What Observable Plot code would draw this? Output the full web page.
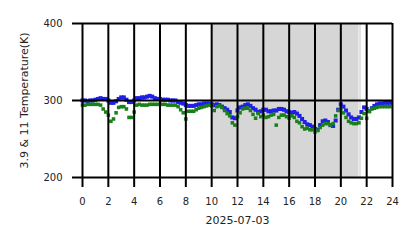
<!DOCTYPE html>
<html>
<head>
<meta charset="utf-8">
<script src="https://cdn.jsdelivr.net/npm/d3@7"></script>
<script src="https://cdn.jsdelivr.net/npm/@observablehq/plot@0.6"></script>
<style>
  html, body { margin: 0; padding: 0; background: white; }
</style>
</head>
<body>
<div id="chart"></div>
<script>
// Hours of day (step 0.2 h)
const hours = [
  0.0,0.2,0.4,0.6,0.8,1.0,1.2,1.4,1.6,1.8,2.0,2.2,2.4,2.6,2.8,3.0,3.2,3.4,3.6,3.8,
  4.0,4.2,4.4,4.6,4.8,5.0,5.2,5.4,5.6,5.8,6.0,6.2,6.4,6.6,6.8,7.0,7.2,7.4,7.6,7.8,
  8.0,8.2,8.4,8.6,8.8,9.0,9.2,9.4,9.6,9.8,10.0,10.2,10.4,10.6,10.8,11.0,11.2,11.4,11.6,11.8,
  12.0,12.2,12.4,12.6,12.8,13.0,13.2,13.4,13.6,13.8,14.0,14.2,14.4,14.6,14.8,15.0,15.2,15.4,15.6,15.8,
  16.0,16.2,16.4,16.6,16.8,17.0,17.2,17.4,17.6,17.8,18.0,18.2,18.4,18.6,18.8,19.0,19.2,19.4,19.6,19.8,
  20.0,20.2,20.4,20.6,20.8,21.0,21.2,21.4,21.6,21.8,22.0,22.2,22.4,22.6,22.8,23.0,23.2,23.4,23.6,23.8
];
// 3.9 um brightness temperature (K) - blue
const temp39 = [
  300,300,299,300,300,301,302,303,302,302,300,297,297,299,302,304,304,301,298,298,
  300,303,303,304,304,305,306,305,303,302,302,301,301,301,300,300,300,298,297,296,
  294,293,293,293,294,295,295,296,296,296,295,294,295,294,292,290,288,285,278,277,
  287,291,292,294,295,293,290,288,285,286,288,288,286,286,287,287,289,289,288,286,
  285,284,285,283,280,276,272,269,268,266,263,262,268,273,274,272,268,267,274,288,
  295,292,287,282,278,276,276,278,285,291,289,286,290,293,295,296,296,297,297,297
];
// 11 um brightness temperature (K) - green
const temp11 = [
  294,294,295,295,295,295,295,294,289,285,281,273,276,284,291,292,292,289,278,278,
  285,294,295,294,294,294,295,295,295,295,295,295,295,294,294,294,294,292,288,284,
  276,286,286,286,288,290,291,292,293,294,293,287,292,293,291,287,283,280,271,268,
  279,284,289,290,290,287,282,277,283,279,281,278,279,281,282,268,278,281,281,279,
  277,280,278,273,271,266,263,264,262,262,259,261,265,268,270,270,268,270,280,287,
  289,284,278,273,271,270,270,271,277,283,277,286,289,290,291,292,292,292,292,292
];
const xTicks = [0,2,4,6,8,10,12,14,16,18,20,22,24];
const yTicks = [200,300,400];
const shade = [{start: 10, end: 21.4, fill: "#d6d6d6"}, {start: 21.4, end: 21.6, fill: "#e3e3e3"}];
const dateLabel = "2025-07-03";
const yLabel = "3.9 & 11 Temperature(K)";

const data = hours.map((h, i) => ({h, t39: temp39[i], t11: temp11[i]}));

const chart = Plot.plot({
  width: 418,
  height: 248,
  marginLeft: 82,
  marginRight: 26,
  marginTop: 23,
  marginBottom: 71,
  style: {fontFamily: "DejaVu Sans", background: "white", color: "#222"},
  x: {domain: [0, 24]},
  y: {domain: [200, 400]},
  marks: [
    Plot.rectX(shade, {x1: "start", x2: "end", y1: 200, y2: 400, fill: "fill"}),
    Plot.dot(data, {x: "h", y: "t39", symbol: "square", r: 2.3, fill: "#1f1fe6", stroke: "none"}),
    Plot.dot(data, {x: "h", y: "t11", symbol: "square", r: 2.0, fill: "#1a801a", stroke: "none"}),
    Plot.ruleX(xTicks, {stroke: "black", strokeWidth: 2, insetBottom: -10}),
    Plot.ruleY(yTicks, {stroke: "black", strokeWidth: 2, insetLeft: -10}),
    Plot.axisX({ticks: xTicks, tickSize: 0, tickPadding: 20, fontSize: 10, label: null}),
    Plot.axisY({ticks: yTicks, tickSize: 0, tickPadding: 20, fontSize: 10, label: null}),
    Plot.text([yLabel], {frameAnchor: "left", dx: -58, rotate: -90, fontSize: 11, textAnchor: "middle"}),
    Plot.text([dateLabel], {frameAnchor: "bottom", dy: 46, fontSize: 11, textAnchor: "middle"})
  ]
});
document.getElementById("chart").appendChild(chart);
</script>
</body>
</html>
